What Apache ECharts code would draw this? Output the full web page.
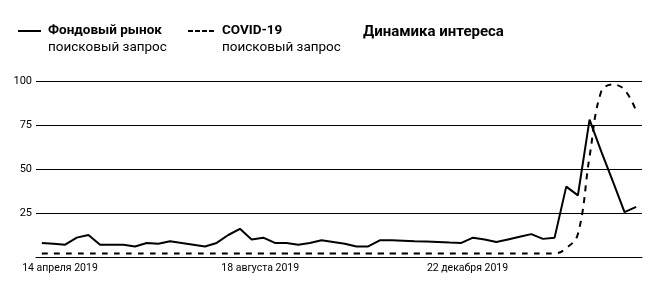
<!DOCTYPE html>
<html>
<head>
<meta charset="utf-8">
<script src="https://cdn.jsdelivr.net/npm/echarts@6/dist/echarts.min.js"></script>
<style>
  html, body { margin: 0; padding: 0; background: #fff; }
  #chart { width: 660px; height: 281px; }
</style>
</head>
<body>
<div id="chart"></div>
<script>
// Weekly categories (Google Trends weeks)
const weeks = [
  '2019-04-07','2019-04-14','2019-04-21','2019-04-28','2019-05-05','2019-05-12','2019-05-19','2019-05-26',
  '2019-06-02','2019-06-09','2019-06-16','2019-06-23','2019-06-30','2019-07-07','2019-07-14','2019-07-21',
  '2019-07-28','2019-08-04','2019-08-11','2019-08-18','2019-08-25','2019-09-01','2019-09-08','2019-09-15',
  '2019-09-22','2019-09-29','2019-10-06','2019-10-13','2019-10-20','2019-10-27','2019-11-03','2019-11-10',
  '2019-11-17','2019-11-24','2019-12-01','2019-12-08','2019-12-15','2019-12-22','2019-12-29','2020-01-05',
  '2020-01-12','2020-01-19','2020-01-26','2020-02-02','2020-02-09','2020-02-16','2020-02-23','2020-03-01',
  '2020-03-08','2020-03-15','2020-03-22','2020-03-29'
];
// "Фондовый рынок" search interest
const stockMarket = [
  8, 7.5, 7, 11, 12.5, 7, 7, 7, 6, 8, 7.5, 9, 8, 7, 6, 8,
  12.5, 16, 10, 11, 8, 8, 7, 8, 9.5, 8.5, 7.5, 6, 6, 9.5, 9.5, 9.3,
  9, 8.8, 8.5, 8.2, 8, 11, 10, 8.5, 10, 11.5, 13, 10.3, 11, 40,
  35, 78, 60, 43, 25.5, 28.5
];
// "COVID-19" search interest
const covid = [
  2, 2, 2, 2, 2, 2, 2, 2, 2, 2, 2, 2, 2, 2, 2, 2,
  2, 2, 2, 2, 2, 2, 2, 2, 2, 2, 2, 2, 2, 2, 2, 2,
  2, 2, 2, 2, 2, 2, 2, 2, 2, 2, 2, 2, 2, 5,
  13, 57, 94, 98, 95, 83
];
// x-axis tick labels
const tickWeeks = ['2019-04-14', '2019-08-18', '2019-12-22'];
const tickLabels = ['14 апреля 2019', '18 августа 2019', '22 декабря 2019'];
const yTicks = [25, 50, 75, 100];

const seriesNames = ['Фондовый рынок', 'COVID-19'];
const subLabel = 'поисковый запрос';
const chartTitle = 'Динамика интереса';

const FONT = 'Roboto';
const chart = echarts.init(document.getElementById('chart'), null, { renderer: 'canvas' });

const labelStyles = ['t0', 't1', 't2'];
const dashIcon = 'path://M0,0h5v2h-5z M7,0h5v2h-5z M14,0h5v2h-5z M21,0h5v2h-5z';

chart.setOption({
  animation: false,
  backgroundColor: '#fff',
  textStyle: { fontFamily: FONT, color: '#000' },
  title: [
    { text: chartTitle, left: 363, top: 25, padding: 0,
      textStyle: { fontFamily: FONT, fontSize: 15, fontWeight: 'bold', color: '#000' } },
    { text: subLabel, left: 48, top: 41, padding: 0,
      textStyle: { fontFamily: FONT, fontSize: 13.5, fontWeight: 'normal', color: '#000' } },
    { text: subLabel, left: 222, top: 41, padding: 0,
      textStyle: { fontFamily: FONT, fontSize: 13.5, fontWeight: 'normal', color: '#000' } }
  ],
  legend: [
    { data: [{ name: seriesNames[0], icon: 'rect' }], left: 18, top: 24, padding: 0,
      itemWidth: 23, itemHeight: 2, itemGap: 0,
      textStyle: { fontFamily: FONT, fontSize: 13.5, fontWeight: 'bold', color: '#000', padding: [0, 0, 0, 2] } },
    { data: [{ name: seriesNames[1], icon: dashIcon }], left: 188, top: 24, padding: 0,
      itemWidth: 26, itemHeight: 2, itemGap: 0,
      textStyle: { fontFamily: FONT, fontSize: 13.5, fontWeight: 'bold', color: '#000', padding: [0, 0, 0, 3] } }
  ],
  grid: { left: 36, right: 18, top: 81, bottom: 24, containLabel: false },
  xAxis: {
    type: 'category',
    data: weeks,
    boundaryGap: true,
    axisLine: { show: true, lineStyle: { color: '#000', width: 1 } },
    axisTick: { show: false },
    axisLabel: {
      interval: (idx, val) => tickWeeks.includes(val),
      formatter: (val) => {
        const i = tickWeeks.indexOf(val);
        return '{' + labelStyles[i] + '|' + tickLabels[i] + '}';
      },
      rich: {
        t0: { fontFamily: FONT, fontSize: 10.5, color: '#000', padding: [0, 0, 0, 13] },
        t1: { fontFamily: FONT, fontSize: 10.5, color: '#000', padding: [0, 6, 0, 0] },
        t2: { fontFamily: FONT, fontSize: 10.5, color: '#000', padding: [0, 11, 0, 0] }
      },
      fontFamily: FONT, fontSize: 10.5, color: '#000', margin: 6
    },
    splitLine: { show: false }
  },
  yAxis: {
    type: 'value',
    min: 0, max: 100, interval: 25,
    axisLine: { show: false },
    axisTick: { show: false },
    axisLabel: {
      formatter: (v) => yTicks.includes(v) ? String(v) : '',
      fontFamily: FONT, fontSize: 11, color: '#000', margin: 4
    },
    splitLine: { show: true, lineStyle: { color: '#000', width: 1 } }
  },
  series: [
    { name: seriesNames[0], type: 'line', data: stockMarket, symbol: 'none',
      lineStyle: { color: '#000', width: 2, type: 'solid' }, itemStyle: { color: '#000' } },
    { name: seriesNames[1], type: 'line', data: covid, symbol: 'none', smooth: 0.4,
      lineStyle: { color: '#000', width: 2, type: [6, 6] }, itemStyle: { color: '#000' } }
  ]
});
</script>
</body>
</html>
